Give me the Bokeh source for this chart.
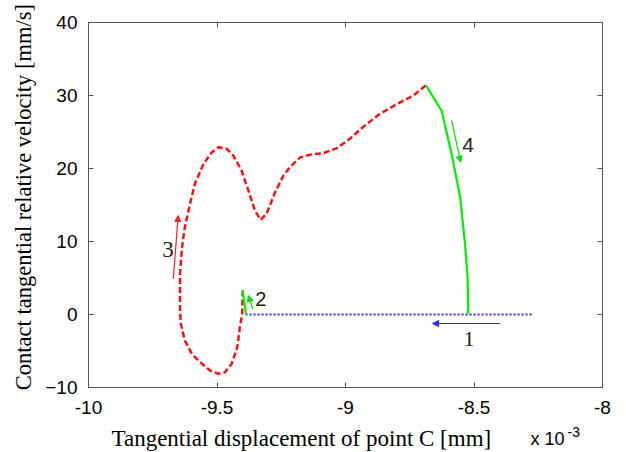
from bokeh.plotting import figure
from bokeh.layouts import column
from bokeh.models import Arrow, NormalHead, Label, LinearAxis, FixedTicker, Range1d
from bokeh.embed import file_html
from bokeh.resources import INLINE

# ---- data (x in units of 1e-3 mm, y in mm/s) ----
# phase 1: sticking, blue dotted
stick_x = [-8.276, -9.387]
stick_y = [0.0, 0.0]
# phase 2: short green rise
rise_x = [-9.387, -9.400]
rise_y = [0.0, 3.3]
# phase 3: red dashed slip loop
slip_x = [-9.400, -9.402, -9.411, -9.421, -9.443, -9.469, -9.495, -9.527, -9.573,
          -9.598, -9.625, -9.641, -9.644, -9.644, -9.637, -9.633, -9.625, -9.605,
          -9.586, -9.553, -9.521, -9.495, -9.462, -9.437, -9.404, -9.378, -9.352,
          -9.330, -9.307, -9.274, -9.242, -9.216, -9.177, -9.138, -9.086, -9.034,
          -8.982, -8.931, -8.866, -8.801, -8.736, -8.687]
slip_y = [3.3, 0.1, -1.74, -4.48, -6.75, -7.9, -8.12, -7.67, -6.3,
          -5.38, -3.56, -1.27, 1.0, 5.58, 8.77, 10.1, 11.96, 15.16,
          17.9, 20.6, 22.2, 22.9, 22.7, 21.8, 19.7, 17.0, 14.2,
          12.97, 13.8, 16.75, 19.0, 20.2, 21.5, 21.9, 22.1, 22.8,
          24.1, 25.7, 27.5, 28.8, 30.0, 31.4]
# phase 4: green descent
desc_x = [-8.687, -8.626, -8.587, -8.554, -8.535, -8.525, -8.522]
desc_y = [31.4, 27.9, 22.0, 16.1, 9.7, 5.1, 0.1]

x_ticks = [-10, -9.5, -9, -8.5, -8]
x_tick_labels = ["-10", "-9.5", "-9", "-8.5", "-8"]
y_ticks = [-10, 0, 10, 20, 30, 40]

# annotation arrows (tail x, tail y, head x, head y) and phase labels
arrow_tail_x = [-8.399, -9.361, -9.670, -8.587]
arrow_tail_y = [-1.23, 0.78, 4.89, 26.58]
arrow_head_x = [-8.661, -9.378, -9.651, -8.552]
arrow_head_y = [-1.23, 2.6, 13.56, 20.86]
arrow_colors = ["#2a2aff", "#00dd00", "#ff2020", "#00dd00"]
phase_names = ["1", "2", "3", "4"]
phase_x = [-8.519, -9.330, -9.691, -8.523]
phase_y = [-3.42, 2.08, 8.84, 23.26]
phase_fonts = ["Liberation Serif", "Liberation Sans", "Liberation Serif", "Liberation Sans"]
phase_sizes = ["22px", "20px", "23px", "21px"]

x_title = "Tangential displacement of point C [mm]"
y_title = "Contact tangential relative velocity [mm/s]"
x_scale_base = "x 10"
x_scale_exp = "-3"

p = figure(width=626, height=422, x_range=Range1d(-10, -8), y_range=Range1d(-10, 40),
           output_backend="svg", toolbar_location=None,
           min_border_left=88, min_border_right=24, min_border_top=22, min_border_bottom=35)
p.xgrid.visible = False
p.ygrid.visible = False
p.outline_line_color = "#555555"
p.background_fill_color = "white"

tick_font = "Liberation Sans"
for ax, ticks in ((p.xaxis, x_ticks), (p.yaxis, y_ticks)):
    ax.ticker = FixedTicker(ticks=ticks)
    ax.major_tick_in = 5
    ax.major_tick_out = 0
    ax.minor_tick_in = 0
    ax.minor_tick_out = 0
    ax.axis_line_color = "#555555"
    ax.major_tick_line_color = "#555555"
    ax.major_label_text_font = tick_font
    ax.major_label_text_font_size = "19px"
    ax.major_label_text_color = "black"
p.xaxis.major_label_overrides = {t: s for t, s in zip(x_ticks, x_tick_labels)}
p.xaxis.major_label_standoff = 13
p.yaxis.major_label_standoff = 11

# leading no-break spaces nudge the centred, rotated title upward as in the original
p.yaxis.axis_label = "\u00a0\u00a0\u2009" + y_title
p.yaxis.axis_label_text_font = "Liberation Serif"
p.yaxis.axis_label_text_font_size = "22.5px"
p.yaxis.axis_label_text_font_style = "normal"
p.yaxis.axis_label_text_color = "black"
p.yaxis.axis_label_standoff = 6

for ticks, side in ((x_ticks, "above"), (y_ticks, "right")):
    ax = LinearAxis(ticker=FixedTicker(ticks=ticks), major_tick_in=5, major_tick_out=0,
                    minor_tick_in=0, minor_tick_out=0,
                    major_label_overrides={t: "" for t in ticks},
                    major_label_standoff=0, axis_line_color="#555555",
                    major_tick_line_color="#555555")
    p.add_layout(ax, side)

p.line(stick_x, stick_y, color="#2a2aff", line_width=2, line_dash="2 2")
p.line(slip_x, slip_y, color="#ff1010", line_width=2.5, line_dash="6 3")
p.line(rise_x, rise_y, color="#00ee00", line_width=2.2)
p.line(desc_x, desc_y, color="#00ee00", line_width=2.2)

for tx, ty, hx, hy, c in zip(arrow_tail_x, arrow_tail_y, arrow_head_x, arrow_head_y, arrow_colors):
    p.add_layout(Arrow(x_start=tx, y_start=ty, x_end=hx, y_end=hy, line_color=c, line_width=1.2,
                       end=NormalHead(size=6, fill_color=c, line_color=c)))

for n, x, y, f, s in zip(phase_names, phase_x, phase_y, phase_fonts, phase_sizes):
    p.add_layout(Label(x=x, y=y, text=n, text_font=f, text_font_size=s, text_align="center",
                       text_baseline="middle", text_color="#222222"))

# strip below the plot carrying the x-axis title (frame aligned with the main plot)
p2 = figure(width=626, height=30, x_range=Range1d(0, 514), y_range=Range1d(0, 30),
            output_backend="svg", toolbar_location=None,
            min_border_left=88, min_border_right=24, min_border_top=0, min_border_bottom=0,
            x_axis_location=None, y_axis_location=None)
p2.grid.visible = False
p2.outline_line_color = None
p2.add_layout(Label(x=23, y=14, x_units="screen", y_units="screen", text=x_title,
                    text_font="Liberation Serif", text_font_size="23px",
                    text_baseline="alphabetic", text_color="black"))
p2.add_layout(Label(x=442, y=14, x_units="screen", y_units="screen", text=x_scale_base,
                    text_font="Liberation Sans", text_font_size="18px",
                    text_baseline="alphabetic", text_color="black"))
p2.add_layout(Label(x=479, y=21, x_units="screen", y_units="screen", text=x_scale_exp,
                    text_font="Liberation Sans", text_font_size="14px",
                    text_baseline="alphabetic", text_color="black"))

layout = column(p, p2, spacing=0)
open("out.html", "w").write(file_html(layout, INLINE))
